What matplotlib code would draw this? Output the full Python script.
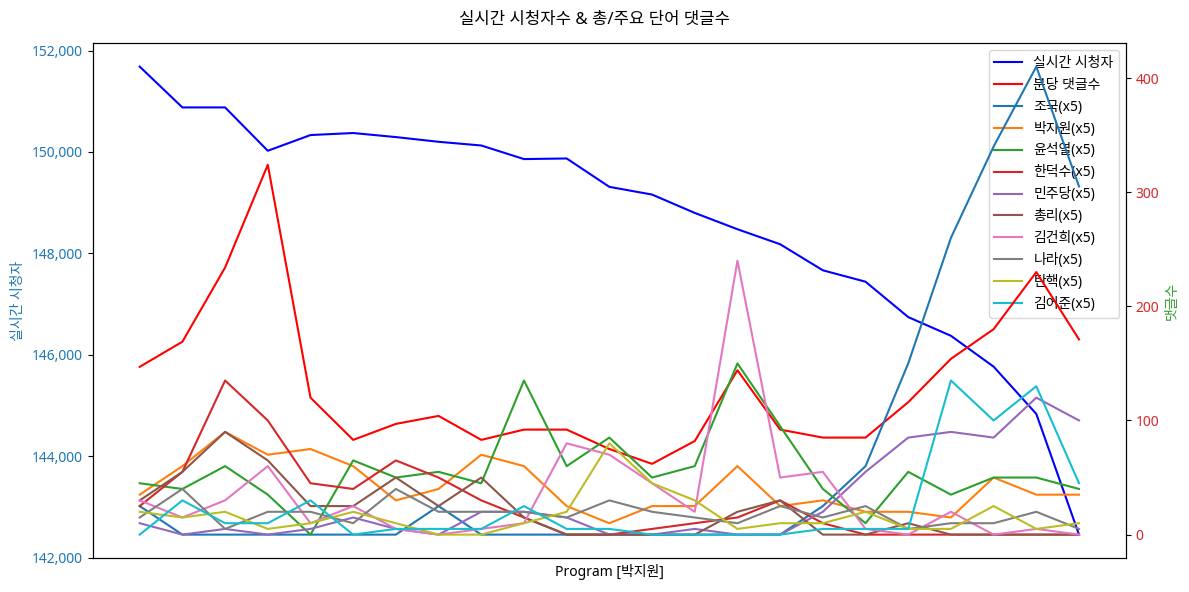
import numpy as np
import matplotlib
matplotlib.use('Agg')
import matplotlib.pyplot as plt

plt.rcParams['font.family'] = ['Noto Sans', 'Noto Sans CJK KR', 'DejaVu Sans']

# 실시간 시청자 (left axis)
viewers = [151684, 150879, 150879, 150024, 150334, 150374, 150294, 150201,
           150128, 149860, 149872, 149312, 149160, 148798, 148476, 148180,
           147666, 147441, 146743, 146374, 145765, 144833, 142452]

# 분당 댓글수 (right axis)
comments = [147, 169, 234, 324, 120, 83, 97, 104, 83, 92, 92, 75,
            62, 82, 144, 92, 85, 85, 116, 154, 180, 230, 171]

# 주요 단어 댓글수 (raw counts, drawn x5)
keyword_names = ['조국', '박지원', '윤석열', '한덕수', '민주당', '총리', '김건희', '나라', '탄핵', '김어준']
keyword_counts = [
    [5, 0, 0, 0, 0, 0, 0, 5, 0, 0, 0, 0, 0, 0, 0, 0, 5, 12, 30, 52, 68, 82, 61],
    [7, 12, 18, 14, 15, 12, 6, 8, 14, 12, 5, 2, 5, 5, 12, 5, 6, 4, 4, 3, 10, 7, 7],
    [9, 8, 12, 7, 0, 13, 10, 11, 9, 27, 12, 17, 10, 12, 30, 19, 8, 2, 11, 7, 10, 10, 8],
    [5, 11, 27, 20, 9, 8, 13, 10, 6, 3, 0, 0, 1, 2, 3, 6, 2, 0, 0, 0, 0, 0, 0],
    [2, 0, 1, 0, 1, 3, 1, 0, 4, 4, 3, 0, 0, 1, 0, 0, 4, 11, 17, 18, 17, 24, 20],
    [6, 11, 18, 13, 5, 5, 10, 5, 10, 3, 0, 0, 0, 0, 4, 6, 0, 0, 2, 0, 0, 0, 0],
    [6, 3, 6, 12, 2, 5, 1, 0, 1, 2, 16, 14, 9, 4, 48, 10, 11, 1, 0, 4, 0, 1, 0],
    [3, 8, 1, 4, 4, 2, 8, 4, 4, 4, 3, 6, 4, 3, 2, 5, 3, 5, 1, 2, 2, 4, 1],
    [4, 3, 4, 1, 2, 4, 2, 0, 0, 2, 4, 16, 9, 6, 1, 2, 2, 4, 1, 1, 5, 1, 2],
    [0, 6, 2, 2, 6, 0, 1, 1, 1, 5, 1, 1, 0, 0, 0, 0, 1, 1, 1, 27, 20, 26, 9],
]
keyword_colors = ['tab:blue', 'tab:orange', 'tab:green', 'tab:red', 'tab:purple',
                  'tab:brown', 'tab:pink', 'tab:gray', 'tab:olive', 'tab:cyan']

x = np.arange(len(viewers))

fig, ax1 = plt.subplots(figsize=(11.89, 5.92), dpi=100)
ax2 = ax1.twinx()

l1, = ax1.plot(x, viewers, color='blue', label='실시간 시청자')
l2, = ax2.plot(x, comments, color='red', label='분당 댓글수')
lines = [l1, l2]
for name, counts, c in zip(keyword_names, keyword_counts, keyword_colors):
    ln, = ax2.plot(x, np.array(counts) * 5, color=c, label=f'{name}(x5)')
    lines.append(ln)

ax1.set_xticks([])
ax1.set_xlabel('Program [박지원]')
ax1.set_ylabel('실시간 시청자', color='tab:blue')
ax1.tick_params(axis='y', labelcolor='tab:blue')
ax1.yaxis.set_major_formatter(matplotlib.ticker.StrMethodFormatter('{x:,.0f}'))
ax2.set_ylabel('댓글수', color='tab:green')
ax2.tick_params(axis='y', labelcolor='tab:red')

ax1.legend(lines, [ln.get_label() for ln in lines], loc='upper right')
fig.suptitle('실시간 시청자수 & 총/주요 단어 댓글수')
fig.subplots_adjust(left=0.078, right=0.947, top=0.927, bottom=0.0574)
fig.savefig('out.png')
